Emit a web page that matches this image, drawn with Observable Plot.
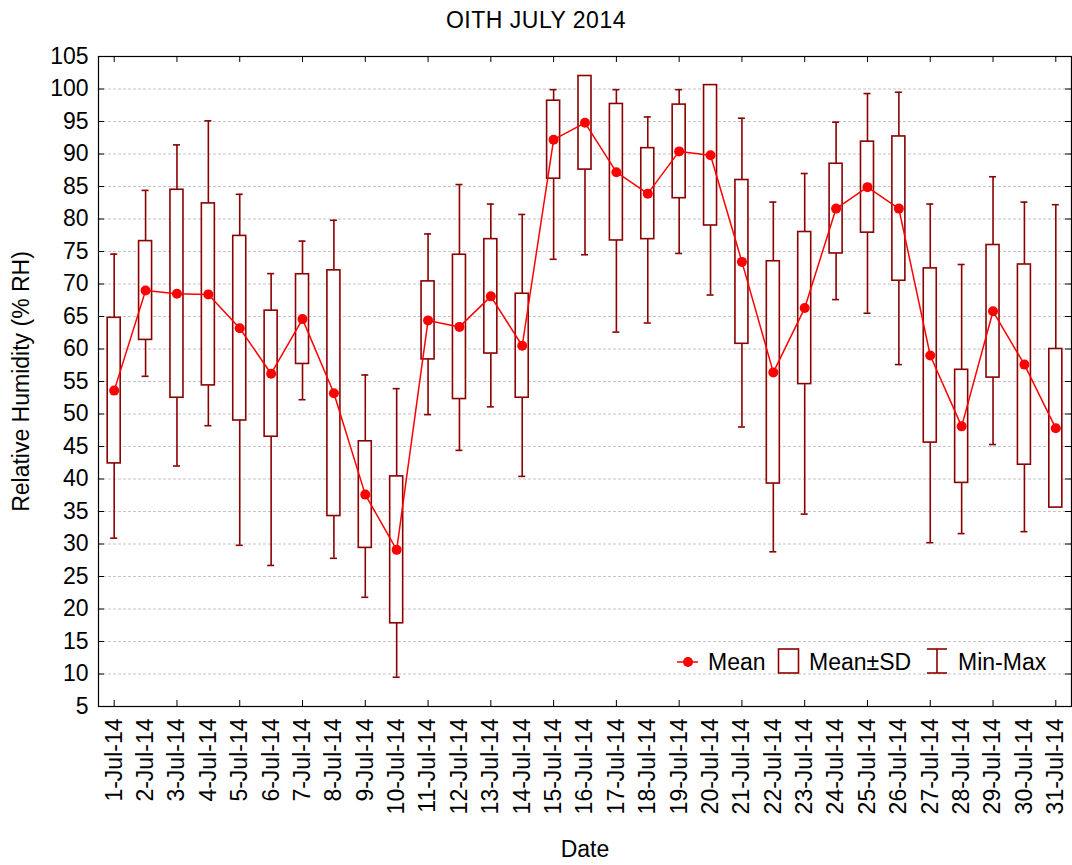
<!DOCTYPE html>
<html><head><meta charset="utf-8">
<script src="https://cdn.jsdelivr.net/npm/d3@7"></script>
<script src="https://cdn.jsdelivr.net/npm/@observablehq/plot@0.6"></script>
<style>
body{margin:0;background:#fff;font-family:"Liberation Sans",Arial,sans-serif;}
#wrap{position:relative;width:1072px;height:865px;overflow:hidden;}
#title{height:40px;line-height:40px;text-align:center;font-size:23px;color:#000;letter-spacing:0.5px;}
#legend{position:absolute;left:0;top:0;pointer-events:none;}
</style></head><body>
<div id="wrap"><div id="title">OITH JULY 2014</div><div id="chart"></div><svg id="legend" width="1072" height="865"></svg></div>
<script>
const days = [1,2,3,4,5,6,7,8,9,10,11,12,13,14,15,16,17,18,19,20,21,22,23,24,25,26,27,28,29,30,31];
const dayLabels = days.map(d => `${d}-Jul-14`);
const means = [53.6,69.0,68.5,68.4,63.2,56.2,64.6,53.2,37.6,29.1,64.4,63.4,68.1,60.5,92.2,94.8,87.2,83.9,90.4,89.8,73.4,56.4,66.3,81.6,84.9,81.6,59.0,48.1,65.8,57.6,47.8];
const sds = [11.2,7.6,16.0,14.0,14.2,9.7,6.9,18.9,8.2,11.3,6.0,11.1,8.8,8.0,6.0,7.2,10.5,7.0,7.2,10.8,12.6,17.1,11.7,6.9,7.0,11.1,13.4,8.7,10.2,15.4,12.2];
const mins = [30.9,55.8,42.0,48.2,29.8,26.7,52.2,27.8,21.8,9.5,49.9,44.4,51.1,40.4,73.8,74.5,62.6,64.0,74.7,68.3,48.0,28.8,34.6,67.6,65.5,57.6,30.2,31.6,45.3,31.9,36.5];
const maxs = [74.6,84.4,91.4,95.1,83.8,71.6,76.6,79.8,56.0,53.9,77.7,85.3,82.3,80.7,99.9,100.0,99.9,95.7,99.9,100.0,95.5,82.6,87.0,94.9,99.3,99.5,82.3,73.0,86.5,82.6,82.2];
const yTicks = [5,10,15,20,25,30,35,40,45,50,55,60,65,70,75,80,85,90,95,100,105];
const gridTicks = [10,15,20,25,30,35,40,45,50,55,60,65,70,75,80,85,90,95,100];
const majorDays = ["1-Jul-14","3-Jul-14","5-Jul-14","7-Jul-14","9-Jul-14","11-Jul-14","13-Jul-14","15-Jul-14","17-Jul-14","19-Jul-14","21-Jul-14","23-Jul-14","25-Jul-14","27-Jul-14","29-Jul-14","31-Jul-14"];

const data = days.map((d, i) => ({
  day: dayLabels[i], mean: means[i], lo: means[i] - sds[i], hi: means[i] + sds[i], min: mins[i], max: maxs[i]
}));

const dark = "#8b0000";
const font = '"Liberation Sans", Arial, sans-serif';
const W = 1072, H = 825, mL = 98, mR = 1, mT = 16, mB = 159;
const fw = W - mL - mR, fh = H - mT - mB;
const step = fw / days.length;
const boxInset = (step - 13) / 2;
const capInset = (step - 7) / 2;

const chart = Plot.plot({
  width: W, height: H,
  marginLeft: mL, marginRight: mR, marginTop: mT, marginBottom: mB,
  style: {fontFamily: font, fontSize: "23px", color: "#000", background: "transparent", overflow: "visible"},
  x: {type: "band", domain: dayLabels, padding: 0, round: false},
  y: {domain: [5, 105]},
  marks: [
    Plot.ruleY(gridTicks, {stroke: "#c4c4c4", strokeDasharray: "3,2", strokeWidth: 1}),
    Plot.ruleX(data, {x: "day", y1: "min", y2: "max", stroke: dark, strokeWidth: 1.6}),
    Plot.tickY(data, {x: "day", y: "max", stroke: dark, strokeWidth: 1.6, insetLeft: capInset, insetRight: capInset}),
    Plot.tickY(data, {x: "day", y: "min", stroke: dark, strokeWidth: 1.6, insetLeft: capInset, insetRight: capInset}),
    Plot.barY(data, {x: "day", y1: "lo", y2: "hi", fill: "white", stroke: dark, strokeWidth: 1.6, insetLeft: boxInset, insetRight: boxInset}),
    Plot.line(data, {x: "day", y: "mean", stroke: "#ff0000", strokeWidth: 1.5}),
    Plot.dot(data, {x: "day", y: "mean", r: 5, fill: "#ff0000", stroke: "none"}),
    Plot.tickX(majorDays, {x: d => d, insetTop: fh - 6, stroke: "#000"}),
    Plot.tickX(majorDays, {x: d => d, insetBottom: fh - 6, stroke: "#000"}),
    Plot.tickY(yTicks, {y: d => d, insetRight: fw - 6, stroke: "#000"}),
    Plot.tickY(yTicks, {y: d => d, insetLeft: fw - 6, stroke: "#000"}),
    Plot.frame({stroke: "#000", strokeWidth: 1.2}),
    Plot.axisY(yTicks, {tickSize: 0, tickPadding: 10, fontSize: 23, label: "Relative Humidity (% RH)", labelAnchor: "center", labelOffset: 86, labelArrow: "none"}),
    Plot.axisX({tickSize: 0, tickPadding: 12, tickRotate: -90, fontSize: 23, label: "Date", labelAnchor: "center", labelOffset: 150, labelArrow: "none"})
  ]
});
document.getElementById("chart").appendChild(chart);

// legend overlay
const leg = d3.select("#legend");
const ly = 662;
leg.append("line").attr("x1", 677).attr("x2", 698).attr("y1", ly).attr("y2", ly).attr("stroke", "#ff0000").attr("stroke-width", 1.5);
leg.append("circle").attr("cx", 688).attr("cy", ly).attr("r", 5).attr("fill", "#ff0000");
leg.append("rect").attr("x", 778.5).attr("y", 649).attr("width", 20).attr("height", 24).attr("fill", "white").attr("stroke", dark).attr("stroke-width", 1.6);
leg.append("line").attr("x1", 937).attr("x2", 937).attr("y1", 649).attr("y2", 673).attr("stroke", dark).attr("stroke-width", 1.6);
leg.append("line").attr("x1", 927).attr("x2", 947).attr("y1", 649).attr("y2", 649).attr("stroke", dark).attr("stroke-width", 1.6);
leg.append("line").attr("x1", 927).attr("x2", 947).attr("y1", 673).attr("y2", 673).attr("stroke", dark).attr("stroke-width", 1.6);
const legText = [["Mean", 708], ["Mean±SD", 809], ["Min-Max", 958]];
legText.forEach(([t, x]) => leg.append("text").attr("x", x).attr("y", 670).attr("font-family", font).attr("font-size", 23).attr("fill", "#000").text(t));
</script>
</body></html>
